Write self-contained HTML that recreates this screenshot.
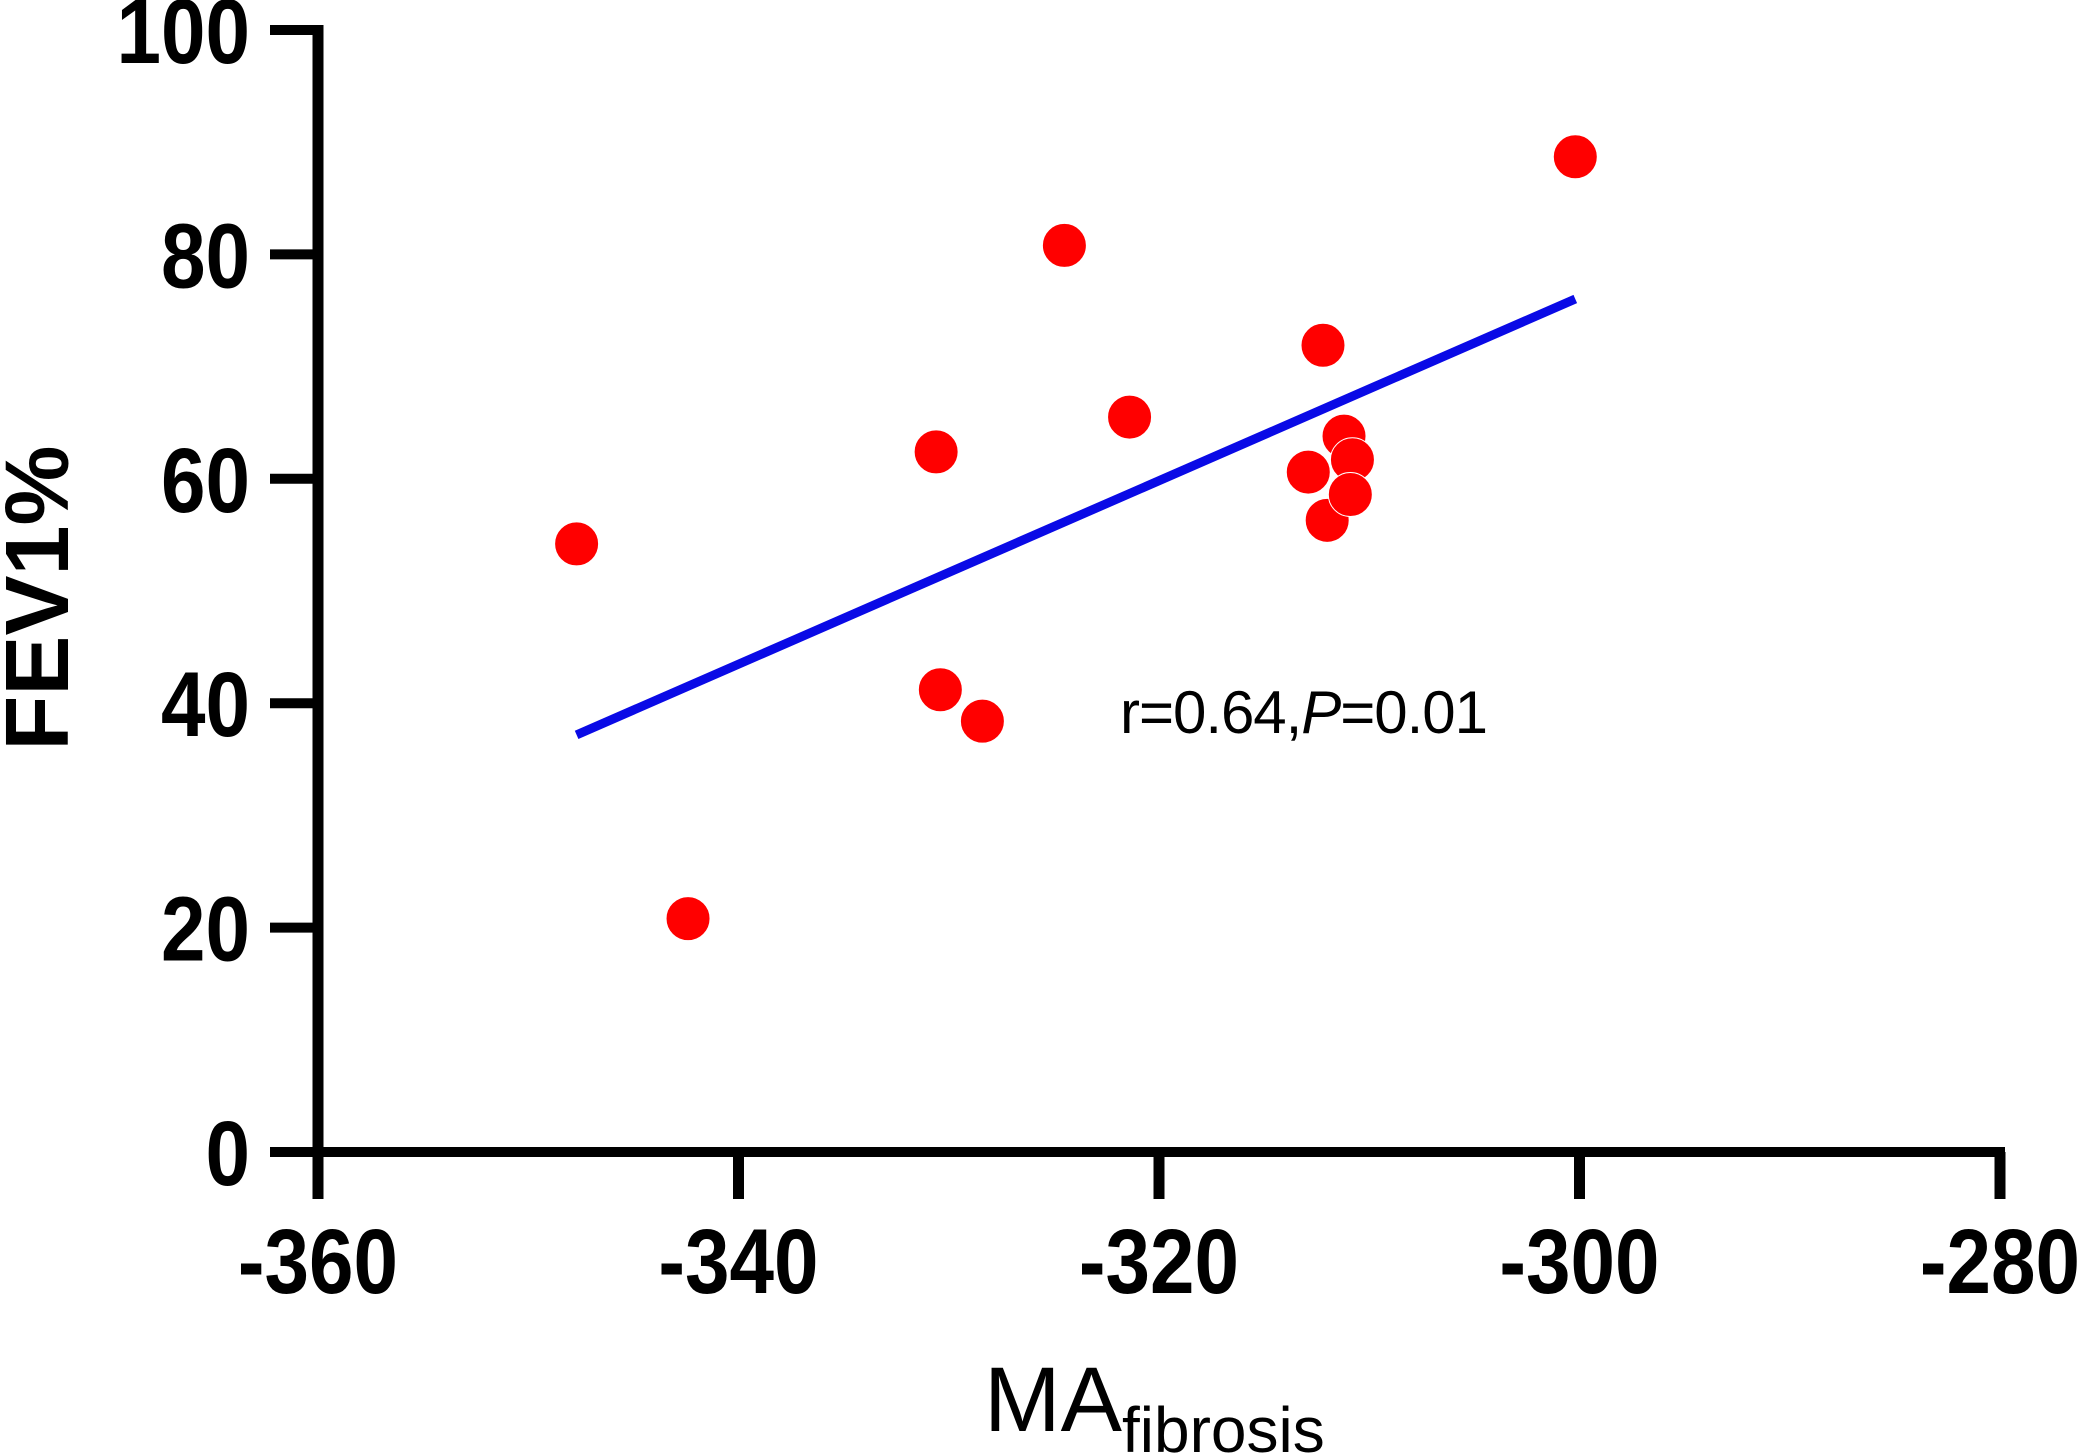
<!DOCTYPE html>
<html><head><meta charset="utf-8"><style>
html,body{margin:0;padding:0;background:#fff;}
svg{display:block;font-family:"Liberation Sans",Arial,sans-serif;}
</style></head><body>
<svg id="chart" width="2083" height="1456" viewBox="0 0 2083 1456" xmlns="http://www.w3.org/2000/svg">
<g id="axes"></g>
<g id="marks"></g>
<text transform="translate(68,598) rotate(-90)" text-anchor="middle" font-weight="bold" font-size="90">FEV1%</text>
<text x="984" y="1431" font-size="92">MA<tspan font-size="64" dy="21">fibrosis</tspan></text>
<text x="1120" y="733" font-size="60" textLength="368">r=0.64,<tspan font-style="italic">P</tspan>=0.01</text>
</svg>
<script>
const xTicks = [-360, -340, -320, -300, -280];
const yTicks = [0, 20, 40, 60, 80, 100];
const ptX = [-347.7, -342.4, -330.6, -330.4, -328.4, -324.5, -321.4, -312.2, -312.9, -312.0, -311.2, -310.8, -310.9, -300.2];
const ptY = [54.2, 20.8, 62.4, 41.2, 38.4, 80.8, 65.5, 71.9, 60.6, 56.3, 63.8, 61.7, 58.6, 88.7];

const NS = 'http://www.w3.org/2000/svg';
const X0 = 318, X1 = 2000, Y0 = 1152, Y1 = 30;
const FS = 92, SQ = 0.87;
const xs = v => X0 + (v - (-360)) / 80 * (X1 - X0);
const ys = v => Y0 - v / 100 * (Y0 - Y1);
const labW = s => { let w = 0; for (const c of String(s)) w += (c === '-' ? 0.333 : 0.556); return w * FS * SQ; };
function mk(tag, attrs, parent) {
  const e = document.createElementNS(NS, tag);
  for (const k in attrs) e.setAttribute(k, attrs[k]);
  parent.appendChild(e);
  return e;
}
const axes = document.getElementById('axes');
const marks = document.getElementById('marks');

let el = mk('line', {x1: X0, y1: Y1 - 5, x2: X0, y2: Y0 + 47, stroke: '#000', 'stroke-width': 11}, axes);


yTicks.forEach(t => {
  const y = ys(t);
  let tk = mk('line', {x1: 270, y1: y, x2: X0, y2: y, stroke: '#000', 'stroke-width': 10}, axes);
  
  
  const w = labW(t);
  let lb = mk('text', {x: 250 - w, y: y + 33, 'font-size': FS, 'font-weight': 'bold', textLength: w, lengthAdjust: 'spacingAndGlyphs'}, axes);
  lb.textContent = t;
  
  
});
el = mk('line', {x1: 270, y1: Y0, x2: X1 + 5, y2: Y0, stroke: '#000', 'stroke-width': 10}, axes);


xTicks.forEach(t => {
  const x = xs(t);
  let tk = mk('line', {x1: x, y1: Y0, x2: x, y2: 1199, stroke: '#000', 'stroke-width': 11}, axes);
  
  
  const w = labW(t);
  let lb = mk('text', {x: x - w / 2, y: 1293, 'font-size': FS, 'font-weight': 'bold', textLength: w, lengthAdjust: 'spacingAndGlyphs'}, axes);
  lb.textContent = t;
  
  
});

const n = ptX.length;
const mx = ptX.reduce((a, b) => a + b, 0) / n, my = ptY.reduce((a, b) => a + b, 0) / n;
let sxy = 0, sxx = 0;
for (let i = 0; i < n; i++) { sxy += (ptX[i] - mx) * (ptY[i] - my); sxx += (ptX[i] - mx) ** 2; }
const slope = sxy / sxx, icp = my - slope * mx;
const xmin = Math.min(...ptX), xmax = Math.max(...ptX);
let rl = mk('line', {x1: xs(xmin), y1: ys(icp + slope * xmin), x2: xs(xmax), y2: ys(icp + slope * xmax), stroke: '#0a0ae6', 'stroke-width': 9}, marks);



for (let i = 0; i < n; i++) {
  let c = mk('circle', {cx: xs(ptX[i]), cy: ys(ptY[i]), r: 22, fill: '#ff0000', stroke: '#fff', 'stroke-width': 1}, marks);
  
  
}
</script>
</body></html>
